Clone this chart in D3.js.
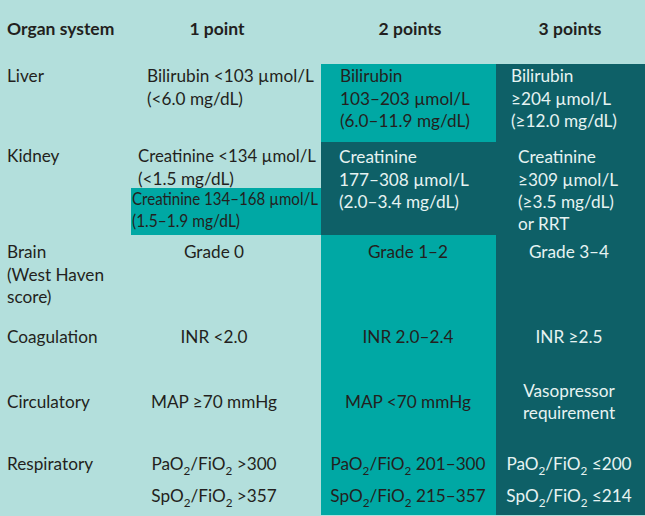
<!DOCTYPE html>
<html><head><meta charset="utf-8">
<script src="https://cdn.jsdelivr.net/npm/d3@7"></script>
<style>
html,body{margin:0;padding:0;background:#b3dfdc;}
svg{display:block;}
</style></head>
<body>
<svg id="c" width="645" height="516"></svg>
<script>
// ---- data ----
const headers = ["Organ system", "1 point", "2 points", "3 points"];
const organs = [["Liver"], ["Kidney"], ["Brain", "(West Haven", "score)"], ["Coagulation"], ["Circulatory"], ["Respiratory"]];
const onePoint = [
  ["Bilirubin <103 µmol/L", "(<6.0 mg/dL)"],
  ["Creatinine <134 µmol/L", "(<1.5 mg/dL)"],
  ["Grade 0"],
  ["INR <2.0"],
  ["MAP ≥70 mmHg"],
  ["PaO_2/FiO_2 >300", "", "SpO_2/FiO_2 >357"]
];
const onePointExtra = ["Creatinine 134–168 µmol/L", "(1.5–1.9 mg/dL)"]; // kidney, highlighted
const twoPoints = [
  ["Bilirubin", "103–203 µmol/L", "(6.0–11.9 mg/dL)"],
  ["Creatinine", "177–308 µmol/L", "(2.0–3.4 mg/dL)"],
  ["Grade 1–2"],
  ["INR 2.0–2.4"],
  ["MAP <70 mmHg"],
  ["PaO_2/FiO_2 201–300", "", "SpO_2/FiO_2 215–357"]
];
const threePoints = [
  ["Bilirubin", "≥204 µmol/L", "(≥12.0 mg/dL)"],
  ["Creatinine", "≥309 µmol/L", "(≥3.5 mg/dL)", "or RRT"],
  ["Grade 3–4"],
  ["INR ≥2.5"],
  ["Vasopressor", "requirement"],
  ["PaO_2/FiO_2 ≤200", "", "SpO_2/FiO_2 ≤214"]
];

// ---- layout ----
const W = 645, H = 516;
const svg = d3.select("#c");
const font = "Lato, 'Open Sans', sans-serif";
const C_LIGHT = "#b3dfdc", C_MID = "#00a8a4", C_DARK = "#0e6067";
const TXT_DARK = "#231f20", TXT_LIGHT = "#e6f3f2";

const colX = d3.scaleOrdinal().domain([0,1,2,3,4]).range([0, 131, 321, 496, W]);
const rowIdx = d3.range(organs.length);
const rowY = d3.scaleOrdinal().domain(rowIdx).range([76, 156, 252, 337, 402, 464]);
const rowTop = d3.scaleOrdinal().domain(d3.range(organs.length + 1)).range([64, 142, 235, 320, 375, 440, 515]);
const lineH = 22.4;

svg.append("rect").attr("x",0).attr("y",0).attr("width",W).attr("height",H).attr("fill",C_LIGHT);
svg.append("rect").attr("x",colX(2)).attr("y",rowTop(0)).attr("width",colX(3)-colX(2)).attr("height",rowTop(6)-rowTop(0)).attr("fill",C_MID);
svg.append("rect").attr("x",colX(3)).attr("y",rowTop(0)).attr("width",colX(4)-colX(3)).attr("height",rowTop(6)-rowTop(0)).attr("fill",C_DARK);
svg.append("rect").attr("x",colX(2)).attr("y",rowTop(1)).attr("width",colX(3)-colX(2)).attr("height",rowTop(2)-rowTop(1)).attr("fill",C_DARK);
svg.append("rect").attr("x",colX(1)).attr("y",188).attr("width",colX(2)-colX(1)).attr("height",rowTop(2)-188).attr("fill",C_MID);

function addLine(g, str, x, y, anchor, color, size, opts) {
  const t = g.append("text").attr("x", x).attr("y", y).attr("dy","0.36em")
    .attr("text-anchor", anchor).attr("fill", color)
    .attr("font-family", font).attr("font-size", size);
  if (opts && opts.weight) t.attr("font-weight", opts.weight);
  if (opts && opts.len) t.attr("textLength", opts.len).attr("lengthAdjust","spacingAndGlyphs");
  const parts = str.split(/(_\d)/).filter(p => p);
  let pending = 0;
  parts.forEach(p => {
    if (p.startsWith("_")) {
      t.append("tspan").text(p.slice(1)).attr("font-size", size*0.68).attr("dy", size*0.28 + pending);
      pending = -size*0.28;
    } else {
      const ts = t.append("tspan").text(p);
      if (pending) ts.attr("dy", pending);
      pending = 0;
    }
  });
  return t;
}

const g = svg.append("g");
const FS = 17.2;
headers.forEach((h, i) => {
  const x = i === 0 ? 7 : [0, 217, 410, 570][i];
  addLine(g, h, x, 29, i === 0 ? "start" : "middle", TXT_DARK, 17.5, {weight: 700});
});
organs.forEach((lines, r) => {
  lines.forEach((l, k) => addLine(g, l, 7, rowY(r) + k*lineH, "start", TXT_DARK, FS));
});
const leftX1 = [147, 138], leftX2 = [340, 339], leftX3 = [511, 518];
const ctr = [214, 408, 569];
function drawCol(cells, ci, colorFn, leftArr) {
  cells.forEach((lines, r) => {
    const isLeft = r < 2;
    const shift = (!isLeft && r !== 5) ? -(lines.length - 1) * lineH / 2 : 0;
    lines.forEach((l, k) => {
      if (!l) return;
      const y = (r === 5 && k === 2) ? 496 : rowY(r) + shift + k*lineH + (r===1 && ci>0 ? 1 : 0);
      const opts = (ci === 0 && r === 1 && k === 0) ? {len: 178} : null;
      addLine(g, l, isLeft ? leftArr[r] : ctr[ci], y, isLeft ? "start" : "middle", colorFn(r), FS, opts);
    });
  });
}
drawCol(onePoint, 0, () => TXT_DARK, leftX1);
drawCol(twoPoints, 1, r => r === 1 ? TXT_LIGHT : TXT_DARK, leftX2);
drawCol(threePoints, 2, () => TXT_LIGHT, leftX3);
onePointExtra.forEach((l, k) => addLine(g, l, 132, 199 + k*lineH, "start", TXT_DARK, 16.5, {len: k===0 ? 186 : 108}));
</script>
</body></html>
